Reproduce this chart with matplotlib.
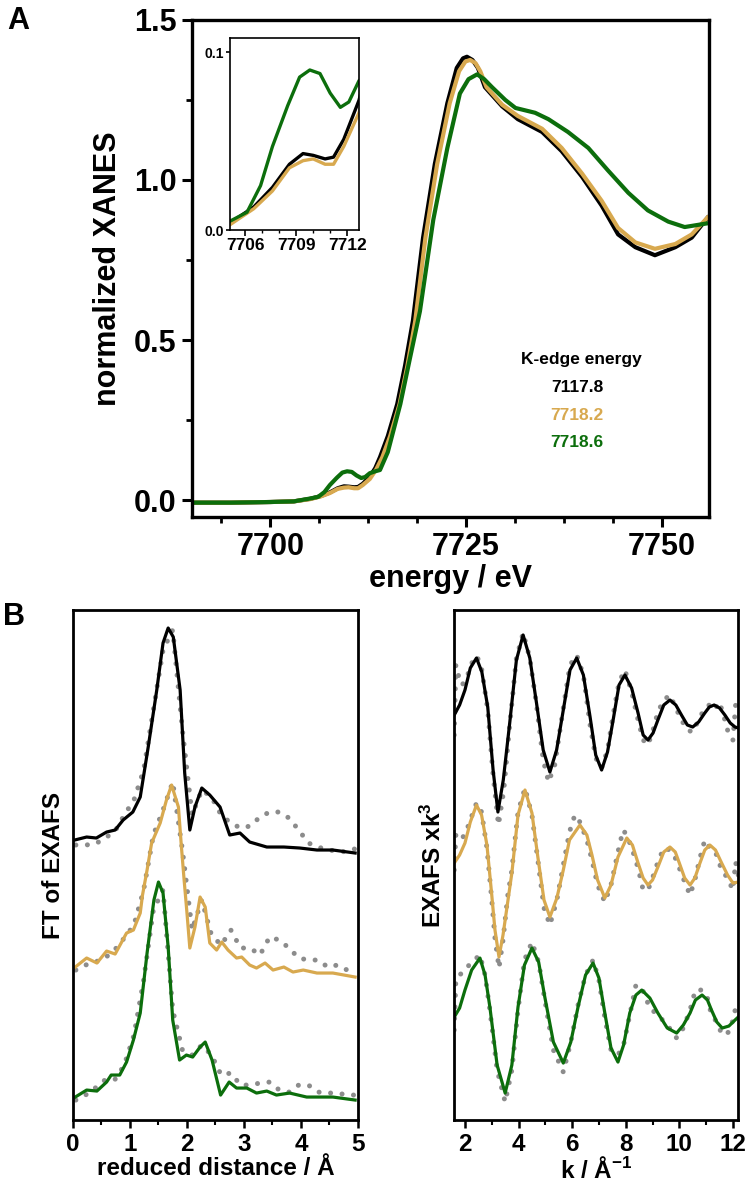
import matplotlib
matplotlib.use("Agg")
import matplotlib.pyplot as plt
from matplotlib.ticker import MultipleLocator, NullLocator, FormatStrFormatter

plt.rcParams['font.family'] = ['Liberation Sans', 'DejaVu Sans']
plt.rcParams['font.weight'] = 'bold'
plt.rcParams['axes.labelweight'] = 'bold'
plt.rcParams['mathtext.fontset'] = 'custom'
plt.rcParams['mathtext.rm'] = 'Liberation Sans:bold'
plt.rcParams['mathtext.bf'] = 'Liberation Sans:bold'
plt.rcParams['mathtext.default'] = 'rm'

# ---------------- Panel A: XANES ----------------
e_black = [7690, 7695, 7700, 7703, 7705.1, 7706.5, 7707.6, 7708.6, 7709.4, 7710, 7710.7, 7711.2, 7711.8,
           7712.7, 7713.4, 7714.0, 7715.0, 7716.2, 7717.2, 7718.2, 7719.5, 7721.0, 7722.6, 7723.8, 7724.6,
           7725.1, 7725.8, 7726.5, 7727.4, 7729.6, 7731.6, 7734.7, 7737.2, 7739.8, 7742.3, 7744.4, 7746.6,
           7749.1, 7751.7, 7753.8, 7755.9]
x_black = [-0.008, -0.008, -0.006, -0.004, 0.004, 0.013, 0.024, 0.037, 0.043, 0.042, 0.040, 0.041, 0.051,
           0.073, 0.10, 0.134, 0.20, 0.30, 0.42, 0.56, 0.82, 1.05, 1.24, 1.35, 1.38,
           1.385, 1.375, 1.35, 1.29, 1.23, 1.19, 1.15, 1.09, 1.01, 0.92, 0.83, 0.79,
           0.765, 0.79, 0.82, 0.885]

e_gold = [7690, 7695, 7700, 7703, 7705.1, 7706.5, 7707.6, 7708.6, 7709.4, 7710, 7710.7, 7711.2, 7711.8,
          7712.7, 7713.5, 7714.3, 7715.3, 7716.5, 7717.5, 7718.5, 7719.8, 7721.3, 7722.9, 7724.1, 7724.9,
          7725.5, 7726.2, 7726.8, 7727.6, 7729.6, 7731.6, 7734.7, 7737.2, 7739.8, 7742.3, 7744.4, 7746.6,
          7749.1, 7751.7, 7753.8, 7755.9]
x_gold = [-0.008, -0.008, -0.006, -0.004, 0.003, 0.012, 0.022, 0.035, 0.039, 0.040, 0.037, 0.037, 0.047,
          0.066, 0.095, 0.134, 0.20, 0.30, 0.42, 0.56, 0.82, 1.05, 1.24, 1.34, 1.37,
          1.375, 1.365, 1.34, 1.29, 1.235, 1.20, 1.16, 1.10, 1.02, 0.935, 0.85, 0.805,
          0.785, 0.80, 0.83, 0.885]

e_green = [7690, 7695, 7700, 7703, 7705.1, 7706.1, 7706.9, 7707.6, 7708.5, 7709.2, 7709.8, 7710.4, 7711.0,
           7711.6, 7712.1, 7712.7, 7713.4, 7714.0, 7715.0, 7716.6, 7717.8, 7719.1, 7720.8, 7722.6, 7724.2,
           7725.3, 7726.4, 7727.3, 7728.3, 7730, 7731.3, 7733.8, 7735.5, 7738, 7740.6, 7743.1, 7745.7,
           7748.2, 7750.8, 7752.9, 7755.9]
x_green = [-0.008, -0.008, -0.006, -0.004, 0.005, 0.010, 0.025, 0.047, 0.070, 0.086, 0.090, 0.088, 0.077,
           0.069, 0.072, 0.084, 0.090, 0.094, 0.15, 0.30, 0.44, 0.59, 0.875, 1.10, 1.27,
           1.315, 1.33, 1.315, 1.29, 1.25, 1.225, 1.21, 1.19, 1.15, 1.10, 1.03, 0.96,
           0.905, 0.87, 0.853, 0.865]

edge_title = "K-edge energy"
edge_labels = ["7117.8", "7718.2", "7718.6"]

# ---------------- Panel B left: FT of EXAFS ----------------
r_black = [0.03, 0.24, 0.41, 0.59, 0.74, 0.88, 1.05, 1.18, 1.32, 1.47, 1.58, 1.67, 1.76, 1.88, 1.96, 2.05,
           2.14, 2.26, 2.40, 2.58, 2.75, 2.93, 3.1, 3.4, 3.7, 3.98, 4.28, 4.56, 4.95]
ft_black = [2.80, 2.83, 2.82, 2.88, 2.90, 3.00, 3.08, 3.23, 3.73, 4.30, 4.77, 4.92, 4.83, 4.30, 3.47, 2.90,
            3.13, 3.32, 3.25, 3.13, 2.85, 2.87, 2.78, 2.73, 2.73, 2.72, 2.70, 2.70, 2.67]

r_gold = [0.04, 0.24, 0.42, 0.59, 0.74, 0.94, 1.06, 1.18, 1.22, 1.30, 1.38, 1.53, 1.64, 1.73, 1.85, 1.90,
          1.95, 2.0, 2.05, 2.14, 2.23, 2.32, 2.40, 2.52, 2.61, 2.72, 2.87, 2.96, 3.1, 3.22, 3.37, 3.51,
          3.7, 3.86, 4.04, 4.28, 4.56, 4.95]
ft_gold = [1.53, 1.62, 1.57, 1.69, 1.66, 1.87, 1.90, 2.07, 2.25, 2.50, 2.77, 2.97, 3.20, 3.35, 3.13, 2.75,
           2.40, 2.07, 1.72, 1.93, 2.23, 2.13, 1.77, 1.70, 1.78, 1.70, 1.62, 1.63, 1.55, 1.52, 1.57, 1.50,
           1.53, 1.48, 1.50, 1.47, 1.47, 1.43]

r_green = [0.04, 0.24, 0.42, 0.59, 0.67, 0.82, 0.94, 1.06, 1.18, 1.30, 1.42, 1.50, 1.58, 1.67, 1.75, 1.87,
           1.99, 2.10, 2.23, 2.32, 2.44, 2.59, 2.74, 2.87, 3.05, 3.22, 3.4, 3.57, 3.8, 4.1, 4.56, 4.95]
ft_green = [0.23, 0.30, 0.29, 0.38, 0.45, 0.45, 0.58, 0.80, 1.07, 1.67, 2.20, 2.38, 2.27, 1.73, 1.00, 0.60,
            0.65, 0.63, 0.73, 0.78, 0.60, 0.25, 0.38, 0.32, 0.32, 0.27, 0.29, 0.25, 0.27, 0.23, 0.23, 0.20]

r_exp = [0.05, 0.22, 0.39, 0.56, 0.73, 0.90, 1.07, 1.24, 1.41, 1.58, 1.75, 1.92, 2.09, 2.26, 2.43, 2.60,
         2.77, 2.94, 3.11, 3.28, 3.45, 3.62, 3.79, 3.96, 4.13, 4.30, 4.47, 4.64, 4.81, 4.98]
ft_black_exp = [2.75, 2.75, 2.76, 2.82, 2.88, 3.05, 3.20, 3.50, 4.10, 4.70, 4.90, 3.90, 3.05, 3.30, 3.23,
                3.05, 2.97, 2.92, 2.94, 3.03, 3.08, 3.08, 3.02, 2.90, 2.77, 2.73, 2.70, 2.69, 2.68, 2.72]
ft_gold_exp = [1.50, 1.55, 1.58, 1.62, 1.70, 1.82, 1.95, 2.30, 2.85, 3.10, 3.38, 2.70, 1.90, 2.20, 1.85,
               1.75, 1.90, 1.72, 1.72, 1.65, 1.83, 1.80, 1.72, 1.62, 1.60, 1.60, 1.53, 1.55, 1.50, 1.48]
ft_green_exp = [0.20, 0.25, 0.32, 0.40, 0.40, 0.55, 0.85, 1.40, 2.10, 2.30, 1.10, 0.70, 0.65, 0.75, 0.65,
                0.45, 0.47, 0.35, 0.35, 0.37, 0.38, 0.30, 0.28, 0.35, 0.35, 0.28, 0.27, 0.27, 0.25, 0.25]

# ---------------- Panel B right: EXAFS k^3 ----------------
k_black = [1.60, 1.80, 2.0, 2.2, 2.43, 2.63, 2.85, 3.05, 3.23, 3.43, 3.67, 3.92, 4.17, 4.42, 4.67, 4.92,
           5.17, 5.42, 5.67, 5.92, 6.17, 6.42, 6.67, 6.88, 7.1, 7.32, 7.53, 7.75, 7.97, 8.22, 8.46, 8.65,
           8.83, 9.02, 9.2, 9.42, 9.65, 9.87, 10.08, 10.3, 10.5, 10.72, 10.95, 11.12, 11.3, 11.5, 11.7,
           11.9, 12.08, 12.2]
chi_black = [4.05, 4.15, 4.30, 4.52, 4.62, 4.48, 4.13, 3.50, 3.08, 3.40, 3.97, 4.60, 4.85, 4.62, 4.17, 3.70,
             3.48, 3.70, 4.10, 4.50, 4.62, 4.45, 4.03, 3.65, 3.50, 3.68, 4.00, 4.35, 4.45, 4.32, 4.07, 3.85,
             3.80, 3.87, 4.00, 4.15, 4.20, 4.15, 4.05, 3.95, 3.93, 3.98, 4.07, 4.13, 4.15, 4.12, 4.05,
             3.97, 3.93, 3.92]
k_black_exp = [1.60, 1.66, 1.75, 1.9, 2.1, 2.3, 2.45, 2.63, 2.85, 3.05, 3.25, 3.45, 3.67, 3.92, 4.17, 4.42,
               4.67, 4.92, 5.12, 5.35, 5.67, 5.92, 6.17, 6.42, 6.67, 6.88, 7.1, 7.32, 7.53, 7.75, 7.97,
               8.22, 8.46, 8.65, 8.83, 9.02, 9.2, 9.42, 9.65, 9.87, 10.08, 10.3, 10.5, 10.72, 10.95, 11.12,
               11.3, 11.5, 11.7, 11.85, 12.0, 12.1, 12.2]
chi_black_exp = [3.85, 4.55, 4.45, 4.35, 4.45, 4.60, 4.64, 4.50, 4.10, 3.45, 2.95, 3.30, 3.95, 4.62, 4.87,
                 4.62, 4.15, 3.60, 3.38, 3.55, 4.12, 4.55, 4.65, 4.45, 3.95, 3.62, 3.52, 3.70, 4.05, 4.38,
                 4.50, 4.28, 4.00, 3.80, 3.75, 3.90, 4.08, 4.20, 4.25, 4.12, 4.00, 3.90, 3.88, 4.00, 4.12,
                 4.15, 4.10, 4.18, 4.00, 3.85, 3.80, 4.15, 4.05]

k_gold = [1.60, 1.80, 2.0, 2.2, 2.43, 2.62, 2.82, 3.0, 3.12, 3.27, 3.42, 3.5, 3.75, 3.98, 4.24, 4.5, 4.72,
          4.95, 5.17, 5.43, 5.67, 5.9, 6.29, 6.55, 6.74, 6.95, 7.22, 7.45, 7.71, 8.04, 8.25, 8.46, 8.65,
          8.83, 9.0, 9.2, 9.42, 9.65, 9.85, 10.0, 10.2, 10.4, 10.58, 10.77, 10.95, 11.14, 11.35, 11.58,
          11.8, 12.0, 12.2]
chi_gold = [2.57, 2.65, 2.77, 2.98, 3.15, 3.05, 2.75, 2.25, 1.90, 1.63, 1.85, 2.00, 2.47, 3.05, 3.30, 3.07,
            2.63, 2.20, 2.03, 2.22, 2.50, 2.80, 2.95, 2.85, 2.65, 2.40, 2.22, 2.35, 2.63, 2.82, 2.75,
            2.57, 2.42, 2.35, 2.40, 2.53, 2.68, 2.73, 2.68, 2.57, 2.42, 2.35, 2.42, 2.57, 2.70, 2.75,
            2.70, 2.57, 2.45, 2.37, 2.38]
k_gold_exp = [1.60, 1.66, 1.8, 2.0, 2.2, 2.43, 2.62, 2.82, 3.0, 3.12, 3.27, 3.42, 3.6, 3.75, 3.98, 4.24,
              4.5, 4.72, 4.95, 5.17, 5.43, 5.67, 5.9, 6.1, 6.29, 6.55, 6.74, 6.95, 7.22, 7.45, 7.71, 7.9,
              8.04, 8.25, 8.46, 8.65, 8.83, 9.0, 9.2, 9.42, 9.65, 9.85, 10.0, 10.2, 10.4, 10.58, 10.77,
              10.95, 11.14, 11.35, 11.58, 11.8, 12.0, 12.1, 12.2]
chi_gold_exp = [2.50, 2.85, 2.80, 2.85, 3.00, 3.17, 3.08, 2.72, 2.20, 1.82, 1.52, 1.80, 2.25, 2.50, 3.08,
                3.32, 3.05, 2.60, 2.12, 1.95, 2.20, 2.55, 2.88, 3.05, 2.98, 2.80, 2.60, 2.35, 2.18, 2.35,
                2.68, 2.90, 2.85, 2.70, 2.52, 2.30, 2.30, 2.42, 2.58, 2.72, 2.70, 2.62, 2.52, 2.38, 2.25,
                2.40, 2.62, 2.80, 2.72, 2.68, 2.50, 2.42, 2.30, 2.58, 2.45]

k_green = [1.60, 1.80, 2.0, 2.25, 2.56, 2.75, 2.93, 3.2, 3.5, 3.75, 3.98, 4.22, 4.5, 4.75, 4.98, 5.3, 5.67,
           5.95, 6.22, 6.5, 6.78, 7.0, 7.22, 7.45, 7.71, 7.92, 8.15, 8.38, 8.6, 8.9, 9.2, 9.55, 9.9, 10.15,
           10.4, 10.6, 10.85, 11.05, 11.2, 11.4, 11.6, 11.85, 12.08, 12.2]
chi_green = [1.03, 1.12, 1.30, 1.50, 1.62, 1.45, 1.13, 0.55, 0.27, 0.55, 1.13, 1.55, 1.72, 1.58, 1.23, 0.78,
             0.57, 0.78, 1.13, 1.45, 1.57, 1.42, 1.07, 0.72, 0.58, 0.75, 1.07, 1.25, 1.30, 1.22, 1.07,
             0.92, 0.87, 0.95, 1.07, 1.20, 1.25, 1.20, 1.10, 0.98, 0.92, 0.94, 1.00, 1.03]
k_green_exp = [1.60, 1.66, 1.8, 2.0, 2.25, 2.56, 2.75, 2.93, 3.2, 3.5, 3.75, 3.98, 4.22, 4.5, 4.75, 4.98,
               5.3, 5.67, 5.95, 6.22, 6.5, 6.78, 7.0, 7.22, 7.45, 7.71, 7.92, 8.15, 8.38, 8.6, 8.9, 9.2,
               9.55, 9.9, 10.15, 10.4, 10.6, 10.85, 11.05, 11.2, 11.4, 11.6, 11.85, 12.0, 12.1, 12.2]
chi_green_exp = [0.90, 1.40, 1.45, 1.50, 1.58, 1.65, 1.45, 1.10, 0.50, 0.18, 0.50, 1.10, 1.60, 1.78, 1.58,
                 1.20, 0.70, 0.48, 0.78, 1.15, 1.45, 1.60, 1.40, 1.02, 0.70, 0.65, 0.75, 1.05, 1.35, 1.32,
                 1.12, 1.05, 0.95, 0.82, 0.92, 1.10, 1.30, 1.30, 1.22, 1.05, 0.98, 0.85, 0.88, 1.00, 1.12,
                 1.05]

BLACK = '#000000'
GOLD = '#D8A94F'
GREEN = '#0C6E0C'
GRAY = '#8C8C8C'
DOTSTYLE = dict(color=GRAY, lw=3.6, linestyle=(0, (0.01, 2.3)), dash_capstyle='round', zorder=1)

fig = plt.figure(figsize=(7.5, 11.87), dpi=100)

# ---- Panel A main ----
axA = fig.add_axes([0.256, 0.5644, 0.6893, 0.4188])
for e, v, c in [(e_black, x_black, BLACK), (e_gold, x_gold, GOLD), (e_green, x_green, GREEN)]:
    axA.plot(e, v, color=c, lw=3.0, solid_joinstyle='round', solid_capstyle='round')
axA.set_xlim(7690, 7756)
axA.set_ylim(-0.053, 1.5)
axA.xaxis.set_major_locator(MultipleLocator(25))
axA.xaxis.set_minor_locator(MultipleLocator(6.25))
axA.yaxis.set_major_locator(MultipleLocator(0.5))
axA.yaxis.set_minor_locator(MultipleLocator(0.25))
axA.yaxis.set_major_formatter(FormatStrFormatter('%.1f'))
axA.tick_params(which='major', direction='out', length=7, width=2.2, labelsize=22, pad=4)
axA.tick_params(which='minor', direction='out', length=4, width=2.0)
for lab in axA.get_xticklabels() + axA.get_yticklabels():
    lab.set_fontweight('bold')
for s in axA.spines.values():
    s.set_linewidth(2.4)
axA.set_xlabel('energy / eV', fontsize=22, fontweight='bold', labelpad=1)
axA.set_ylabel('normalized XANES', fontsize=22, fontweight='bold', labelpad=8)

axA.text(0.754, 0.316, edge_title, transform=axA.transAxes, ha='center', va='center',
         fontsize=12.5, fontweight='bold', color=BLACK)
for i, (lab, c) in enumerate(zip(edge_labels, [BLACK, GOLD, GREEN])):
    axA.text(0.745, 0.260 - i * 0.0555, lab, transform=axA.transAxes, ha='center', va='center',
             fontsize=12.5, fontweight='bold', color=c)

# ---- inset ----
axI = fig.add_axes([0.3067, 0.8062, 0.172, 0.1618])
for e, v, c in [(e_black, x_black, BLACK), (e_gold, x_gold, GOLD), (e_green, x_green, GREEN)]:
    axI.plot(e, v, color=c, lw=2.4, solid_joinstyle='round')
axI.set_xlim(7705.1, 7712.7)
axI.set_ylim(0.0, 0.108)
axI.set_xticks([7706, 7709, 7712])
axI.xaxis.set_minor_locator(MultipleLocator(1))
axI.set_yticks([0.0, 0.1])
axI.yaxis.set_major_formatter(FormatStrFormatter('%.1f'))
axI.tick_params(axis='x', which='major', direction='out', length=4, width=1.2, labelsize=12.5, pad=2)
axI.tick_params(axis='y', which='major', direction='out', length=3, width=1.2, labelsize=10, pad=1)
axI.tick_params(which='minor', direction='out', length=2.5, width=1.0)
for lab in axI.get_xticklabels() + axI.get_yticklabels():
    lab.set_fontweight('bold')
for s in axI.spines.values():
    s.set_linewidth(1.2)

fig.text(0.01, 0.995, 'A', fontsize=22, fontweight='bold', ha='left', va='top')
fig.text(0.004, 0.493, 'B', fontsize=22, fontweight='bold', ha='left', va='top')

# ---- Panel B left ----
axL = fig.add_axes([0.0973, 0.0564, 0.38, 0.4297])
axL.plot(r_exp, ft_black_exp, **DOTSTYLE)
axL.plot(r_exp, ft_gold_exp, **DOTSTYLE)
axL.plot(r_exp, ft_green_exp, **DOTSTYLE)
axL.plot(r_black, ft_black, color=BLACK, lw=2.3, zorder=2, solid_joinstyle='round')
axL.plot(r_gold, ft_gold, color=GOLD, lw=2.3, zorder=2, solid_joinstyle='round')
axL.plot(r_green, ft_green, color=GREEN, lw=2.3, zorder=2, solid_joinstyle='round')
axL.set_xlim(0, 5)
axL.set_ylim(0, 5.1)
axL.xaxis.set_major_locator(MultipleLocator(1))
axL.xaxis.set_minor_locator(MultipleLocator(0.5))
axL.yaxis.set_major_locator(NullLocator())
axL.tick_params(which='major', direction='out', length=6, width=1.8, labelsize=17.5, pad=3)
axL.tick_params(which='minor', direction='out', length=3.5, width=1.5)
for lab in axL.get_xticklabels():
    lab.set_fontweight('bold')
for s in axL.spines.values():
    s.set_linewidth(2.0)
axL.set_xlabel('reduced distance / Å', fontsize=17.5, fontweight='bold', labelpad=1)
axL.set_ylabel('FT of EXAFS', fontsize=17.5, fontweight='bold', labelpad=6)

# ---- Panel B right ----
axR = fig.add_axes([0.6053, 0.0564, 0.3787, 0.4297])
axR.plot(k_black_exp, chi_black_exp, **DOTSTYLE)
axR.plot(k_gold_exp, chi_gold_exp, **DOTSTYLE)
axR.plot(k_green_exp, chi_green_exp, **DOTSTYLE)
axR.plot(k_black, chi_black, color=BLACK, lw=2.3, zorder=2, solid_joinstyle='round')
axR.plot(k_gold, chi_gold, color=GOLD, lw=2.3, zorder=2, solid_joinstyle='round')
axR.plot(k_green, chi_green, color=GREEN, lw=2.3, zorder=2, solid_joinstyle='round')
axR.set_xlim(1.59, 12.19)
axR.set_ylim(0, 5.1)
axR.xaxis.set_major_locator(MultipleLocator(2))
axR.xaxis.set_minor_locator(MultipleLocator(1))
axR.yaxis.set_major_locator(NullLocator())
axR.tick_params(which='major', direction='out', length=6, width=1.8, labelsize=17.5, pad=3)
axR.tick_params(which='minor', direction='out', length=3.5, width=1.5)
for lab in axR.get_xticklabels():
    lab.set_fontweight('bold')
for s in axR.spines.values():
    s.set_linewidth(2.0)
axR.set_xlabel('k / Å$^{-1}$', fontsize=17.5, fontweight='bold', labelpad=1)
axR.set_ylabel('EXAFS xk$^{3}$', fontsize=17.5, fontweight='bold', labelpad=6)

fig.savefig('out.png', dpi=100)
